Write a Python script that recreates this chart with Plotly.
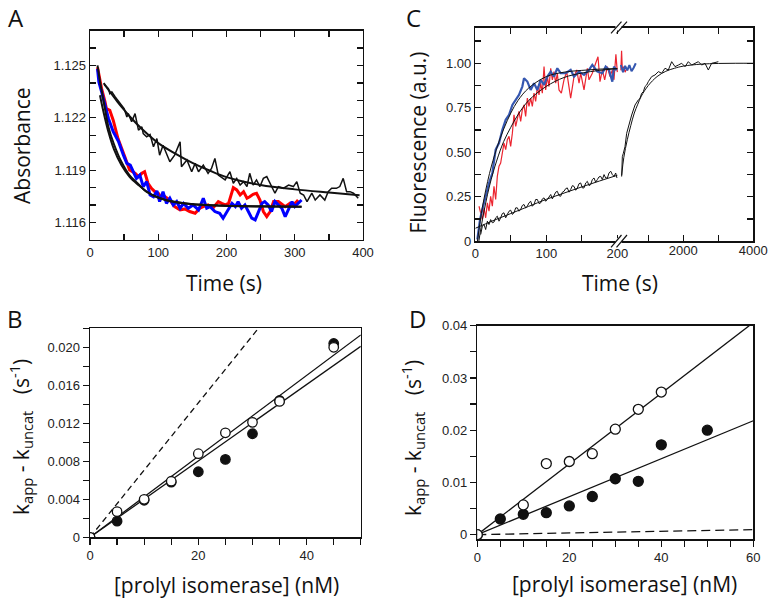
import plotly.graph_objects as go

W, H = 772, 600

# ---------------- Panel A data ----------------
a_black_t = [21,24,27,29,32,37,42,46,50,54,56,61,66,71,76,78,83,88,93,98,102,107,112,117,124,132,134,142,149,154,159,166,173,178,183,188,
             198,205,210,215,220,225,230,234,239,244,249,254,259,264,271,276,283,291,298,303,308,313,318,325,330,337,344,349,354,361,366,371,376,381,386,391,393]
a_black_y = [1.12390,1.12376,1.12367,1.12338,1.12348,1.12319,1.12291,1.12272,1.12253,1.12205,1.12224,1.12177,1.12224,1.12129,1.12148,1.12110,1.12091,1.12104,1.12034,1.12081,
             1.11986,1.12043,1.11996,1.11948,1.11986,1.12062,1.11920,1.11958,1.11891,1.11939,1.11891,1.11929,1.11882,1.11910,1.11967,1.11872,
             1.11844,1.11891,1.11825,1.11853,1.11815,1.11834,1.11806,1.11882,1.11815,1.11844,1.11806,1.11853,1.11863,1.11825,1.11768,1.11806,1.11796,1.11815,1.11806,1.11834,
             1.11768,1.11758,1.11720,1.11768,1.11729,1.11758,1.11729,1.11777,1.11796,1.11796,1.11806,1.11853,1.11777,1.11777,1.11768,1.11748,1.11739]
a_black_fit_t = [20,30,40,50,60,75,100,125,150,175,200,250,300,350,395]
a_black_fit_y = [1.12399,1.12345,1.12293,1.12245,1.12200,1.12140,1.12055,1.11995,1.11942,1.11898,1.11860,1.11815,1.11790,1.11772,1.11757]

a_red_t = [11,17,22,24,29,34,41,46,51,58,66,71,76,80,85,90,95,100,105,110,117,124,132,139,146,154,161,166,173,180,188,193,
           198,203,208,210,215,220,225,230,234,239,244,249,254,259,264,269,276,281,286,293,298,303,305]
a_red_y = [1.12490,1.12367,1.12291,1.12253,1.12243,1.12186,1.12081,1.12024,1.11977,1.11901,1.11882,1.11863,1.11882,1.11891,1.11825,1.11796,1.11777,1.11768,1.11739,1.11748,
           1.11729,1.11691,1.11672,1.11678,1.11663,1.11653,1.11682,1.11691,1.11701,1.11682,1.11720,1.11710,
           1.11701,1.11710,1.11777,1.11800,1.11787,1.11758,1.11777,1.11739,1.11748,1.11762,1.11768,1.11729,1.11663,1.11634,1.11663,1.11720,1.11720,1.11705,1.11691,1.11710,1.11701,1.11720,1.11729]

a_blue_t = [11,13,17,22,27,34,42,49,54,59,63,68,73,78,83,88,93,98,102,107,112,117,122,127,132,137,144,151,159,166,171,176,183,190,195,
            203,208,213,217,222,227,232,237,242,247,252,256,261,266,271,276,281,286,291,296,300,305,310]
a_blue_y = [1.12481,1.12405,1.12348,1.12272,1.12196,1.12120,1.12062,1.11986,1.11939,1.11929,1.11891,1.11853,1.11872,1.11806,1.11834,1.11758,1.11748,1.11781,1.11720,1.11777,
            1.11710,1.11739,1.11701,1.11720,1.11682,1.11710,1.11682,1.11701,1.11672,1.11739,1.11682,1.11691,1.11663,1.11653,1.11625,
            1.11682,1.11710,1.11691,1.11720,1.11682,1.11701,1.11663,1.11625,1.11615,1.11663,1.11710,1.11720,1.11701,1.11663,1.11720,1.11701,1.11682,1.11634,1.11682,1.11720,1.11691,1.11710,1.11729]

a_fit1_t = [11,15,20,27,35,46,58,71,83,95,110,120,144,170,193,250,310]
a_fit1_y = [1.12500,1.12400,1.12295,1.12148,1.12050,1.11948,1.11870,1.11820,1.11775,1.11752,1.11730,1.11722,1.11708,1.11700,1.11696,1.11692,1.11690]
a_fit2_t = [14.6,20,27,35,46,58,71,83,95,120,150,190,250,310]
a_fit2_y = [1.12329,1.12230,1.12119,1.12020,1.11929,1.11862,1.11815,1.11778,1.11750,1.11720,1.11705,1.11698,1.11693,1.11690]

# ---------------- Panel B data ----------------
b_conc = [0,5,10,15,20,25,30,35,45]
b_open = [0,0.0027,0.0040,0.0059,0.0088,0.0110,0.0121,0.0143,0.0200]
b_filled = [0,0.0017,0.0039,0.0058,0.0069,0.0082,0.0109,0.0144,0.0204]
b_fit1_x, b_fit1_y = [0,50],[0,0.0213]
b_fit2_x, b_fit2_y = [0,50],[0,0.0201]
b_dash_x, b_dash_y = [0,31.1],[0,0.022]

# ---------------- Panel C data ----------------
c_blue_t = [2.9,6.6,9.9,14.6,19.3,24.0,28.7,33.4,38.1,42.8,47.5,52.2,56.9,61.5,66.2,68.6,73.3,78.0,82.7,87.4,92.1,96.8,101.5,106.2,110.8,115.5,120.2,127.3,134.3,139.0,146.1,153.1,160.1,164.8,171.9,178.9,183.6,188.3,193.0,195.3,199]
c_blue_y = [0.009,0.121,0.178,0.252,0.327,0.383,0.514,0.551,0.626,0.682,0.710,0.766,0.794,0.822,0.869,0.916,0.897,0.850,0.888,0.850,0.907,0.879,0.925,0.953,0.925,0.972,0.944,0.944,0.963,0.925,0.953,0.935,0.963,0.991,0.953,0.944,0.981,0.963,0.897,0.981,0.96]
c_blue_tail_t = [205,208,211,214,217,220,223,226]
c_blue_tail_y = [0.99,0.95,0.985,0.96,0.99,0.955,0.975,1.0]

c_red_t = [5.2,7.6,9.9,12.3,14.6,17.0,19.3,21.6,24.0,26.3,28.7,31.0,33.4,35.7,38.1,40.4,42.8,45.1,47.5,49.8,52.2,54.5,56.9,59.2,61.5,63.9,66.2,68.6,70.9,73.3,75.6,78.0,80.3,82.7,85.0,87.4,89.7,92.1,94.4,96.8,99.1,101.5,103.8,106.2,108.5,110.8,113.2,115.5,117.9,121.2,124.9,128.7,132.0,134.3,139.0,142.8,146.1,148.4,153.1,157.8,160.1,164.8,169.5,172.8,175.6,178.9,182.2,185.9,189.7,193.0,195.3,198,200]
c_red_y = [0.196,0.159,0.121,0.187,0.131,0.215,0.168,0.252,0.196,0.308,0.234,0.364,0.421,0.439,0.495,0.551,0.514,0.570,0.589,0.533,0.607,0.710,0.645,0.682,0.729,0.673,0.738,0.766,0.701,0.804,0.757,0.804,0.757,0.832,0.785,0.869,0.822,0.888,0.832,0.981,0.850,0.925,0.869,0.972,0.907,0.953,0.888,0.944,0.850,0.832,0.907,0.953,0.850,0.804,0.925,0.963,0.888,0.944,0.850,0.972,0.907,0.944,1.000,1.037,0.897,0.963,0.907,0.981,0.925,0.963,0.907,1.05,0.95]
c_red_tail_t = [205,206,207,209,211,213,215]
c_red_tail_y = [0.96,1.07,0.97,0.98,0.95,0.97,0.96]

c_black_t = [7.6,9.9,12.3,14.6,17.0,19.3,21.6,24.0,26.3,28.7,31.0,33.4,35.7,38.1,40.4,42.8,45.1,47.5,49.8,52.2,54.5,56.9,59.2,61.5,63.9,66.2,68.6,70.9,73.3,75.6,78.0,80.3,82.7,85.0,87.4,89.7,92.1,94.4,96.8,99.1,101.5,103.8,106.2,108.5,110.8,113.2,115.5,117.9,120.2,122.6,124.9,127.3,129.6,132.0,134.3,136.7,139.0,141.4,143.7,146.1,148.4,150.8,153.1,155.5,157.8,160.2,162.5,164.8,167.2,169.5,171.9,174.2,176.6,178.9,181.3,183.6,186.0,188.3,190.7,193.0,195.4,197.7,199.5]
c_black_y = [0.037,0.084,0.093,0.065,0.112,0.093,0.121,0.103,0.107,0.131,0.140,0.112,0.131,0.155,0.159,0.131,0.150,0.168,0.174,0.150,0.159,0.187,0.187,0.168,0.178,0.200,0.206,0.187,0.196,0.215,0.224,0.196,0.206,0.234,0.234,0.211,0.215,0.237,0.243,0.224,0.234,0.252,0.262,0.237,0.252,0.275,0.280,0.256,0.252,0.275,0.280,0.295,0.299,0.275,0.290,0.312,0.308,0.286,0.299,0.323,0.327,0.299,0.299,0.327,0.336,0.312,0.318,0.346,0.355,0.331,0.346,0.361,0.364,0.346,0.374,0.355,0.355,0.383,0.393,0.374,0.364,0.383,0.355]
c_black_fit_t = [0,25,50,75,100,125,150,175,200]
c_black_fit_y = [0.072,0.115,0.155,0.195,0.235,0.270,0.305,0.338,0.370]
c_blue_fit_t = [3,10,20,30,40,50,60,75,100,125,150,175,200]
c_blue_fit_y = [0,0.19,0.38,0.52,0.63,0.72,0.79,0.86,0.925,0.95,0.96,0.967,0.97]
c_red_fit_t = [5,10,20,30,40,50,60,75,100,125,150,175,200]
c_red_fit_y = [0,0.12,0.31,0.45,0.56,0.64,0.71,0.79,0.87,0.92,0.945,0.96,0.97]

c_late_t = [239,245,258,287,334,382,429,477,525,620,668,715,763,810,858,906,953,1001,1096,1191,1287,1382,1477,1572,1668,1763,1858,1953,2049,2144,2239,2334,2430,2525,2620,2715,2810,2906,3001]
c_late_y = [0.363,0.42,0.475,0.494,0.531,0.606,0.644,0.681,0.709,0.765,0.784,0.794,0.803,0.831,0.84,0.869,0.878,0.897,0.925,0.934,0.953,0.944,0.972,0.962,1.009,0.981,0.99,1.0,0.981,1.009,0.99,1.0,1.009,0.99,1.0,0.962,1.0,1.004,1.009]
c_late_fit_t = [240,300,400,500,600,700,800,1000,1250,1500,1750,2000,2500,3000,3500,4000]
c_late_fit_y = [0.37,0.47,0.57,0.65,0.72,0.77,0.815,0.875,0.925,0.955,0.972,0.984,0.995,0.999,1.0,1.0]

# ---------------- Panel D data ----------------
d_open_x = [0,10,15,20,25,30,35,40]
d_open_y = [0,0.0057,0.0136,0.0140,0.0155,0.0202,0.0240,0.0273]
d_fill_x = [0,5,10,15,20,25,30,35,40,50]
d_fill_y = [0,0.0030,0.0039,0.0042,0.0055,0.0073,0.0107,0.0102,0.0172,0.0200]
d_fit1_x, d_fit1_y = [0,60],[0,0.0406]
d_fit2_x, d_fit2_y = [0,60],[0,0.0218]
d_dash_x, d_dash_y = [0,60],[0,0.00096]

# ---------------- tick definitions ----------------
a_xticks = [0,50,100,150,200,250,300,350,400]
a_xlabels = ["0","","100","","200","","300","","400"]
a_yticks = [1.115,1.116,1.117,1.118,1.119,1.120,1.121,1.122,1.123,1.124,1.125,1.126,1.127]
a_ylabels = ["","1.116","","","1.119","","","1.122","","","1.125","",""]
b_xticks = [0,5,10,15,20,25,30,35,40,45,50]
b_xlabels = ["0","","","","20","","","","40","",""]
b_yticks = [0,0.002,0.004,0.006,0.008,0.010,0.012,0.014,0.016,0.018,0.020,0.022]
b_ylabels = ["0","","0.004","","0.008","","0.012","","0.016","","0.020",""]
c_xticks_left = [0,50,100,150,200]
c_xlabels_left = ["0","","100","","200"]
c_xticks_right = [1000,2000,3000,4000]
c_xlabels_right = ["","2000","","4000"]
c_yticks = [0,0.125,0.25,0.375,0.5,0.625,0.75,0.875,1.0,1.125]
c_ylabels = ["0","","0.25","","0.50","","0.75","","1.00",""]
d_xticks = [0,5,10,15,20,25,30,35,40,45,50,55,60]
d_xlabels = ["0","","","","20","","","","40","","","","60"]
d_yticks = [0,0.005,0.01,0.015,0.02,0.025,0.03,0.035,0.04]
d_ylabels = ["0","","0.01","","0.02","","0.03","","0.04"]

def px(x): return x / W
def py(y): return 1 - y / H

fig = go.Figure()
BLK = "#111111"

def line(x, y, xa, ya, color=BLK, width=1.2, dash=None, shape="linear"):
    fig.add_trace(go.Scatter(x=x, y=y, xaxis=xa, yaxis=ya, mode="lines",
                             line=dict(color=color, width=width, dash=dash, shape=shape),
                             hoverinfo="skip"))

# Panel A
line(a_black_t, a_black_y, "x", "y", BLK, 1.5)
line(a_red_t, a_red_y, "x", "y", "#ff0000", 3)
line(a_blue_t, a_blue_y, "x", "y", "#0000ff", 3)
line(a_black_fit_t, a_black_fit_y, "x", "y", BLK, 2, shape="spline")
line(a_fit1_t, a_fit1_y, "x", "y", BLK, 2, shape="spline")
line(a_fit2_t, a_fit2_y, "x", "y", BLK, 2, shape="spline")

# Panel B
line(b_fit1_x, b_fit1_y, "x2", "y2", BLK, 1.3)
line(b_fit2_x, b_fit2_y, "x2", "y2", BLK, 1.3)
line(b_dash_x, b_dash_y, "x2", "y2", BLK, 1.3, dash="6px,4px")
fig.add_trace(go.Scatter(x=b_conc, y=b_filled, xaxis="x2", yaxis="y2", mode="markers",
                         marker=dict(size=9.5, color=BLK, line=dict(color=BLK, width=1.3)), hoverinfo="skip"))
fig.add_trace(go.Scatter(x=b_conc, y=b_open, xaxis="x2", yaxis="y2", mode="markers",
                         marker=dict(size=9.5, color="white", line=dict(color=BLK, width=1.3)), hoverinfo="skip"))

# Panel C
line(c_black_t, c_black_y, "x3", "y3", BLK, 1.0)
line(c_red_t, c_red_y, "x3", "y3", "#ec2530", 1.2)
line(c_red_tail_t, c_red_tail_y, "x3", "y3", "#ec2530", 1.2)
line(c_blue_t, c_blue_y, "x3", "y3", "#3557b0", 2.2)
line(c_blue_tail_t, c_blue_tail_y, "x3", "y3", "#3557b0", 2.0)
line(c_black_fit_t, c_black_fit_y, "x3", "y3", BLK, 1.0, shape="spline")
line(c_blue_fit_t, c_blue_fit_y, "x3", "y3", BLK, 1.0, shape="spline")
line(c_red_fit_t, c_red_fit_y, "x3", "y3", BLK, 1.0, shape="spline")
line(c_late_t, c_late_y, "x4", "y3", BLK, 1.0)
line(c_late_fit_t, c_late_fit_y, "x4", "y3", BLK, 1.0, shape="spline")

# Panel D
line(d_fit1_x, d_fit1_y, "x5", "y4", BLK, 1.3)
line(d_fit2_x, d_fit2_y, "x5", "y4", BLK, 1.3)
line(d_dash_x, d_dash_y, "x5", "y4", BLK, 1.3, dash="9px,5px")
fig.add_trace(go.Scatter(x=d_fill_x, y=d_fill_y, xaxis="x5", yaxis="y4", mode="markers",
                         marker=dict(size=10, color=BLK, line=dict(color=BLK, width=1.3)), hoverinfo="skip"))
fig.add_trace(go.Scatter(x=d_open_x, y=d_open_y, xaxis="x5", yaxis="y4", mode="markers",
                         marker=dict(size=10, color="white", line=dict(color=BLK, width=1.3)), hoverinfo="skip"))

TICKFONT = dict(family="Liberation Sans, Arial", size=13, color="#222")

def ax(domain, rng, tickvals, ticktext, inside=True, mirror="ticks", **kw):
    d = dict(domain=domain, range=rng, tickmode="array", tickvals=tickvals, ticktext=ticktext,
             showgrid=False, zeroline=False, showline=True, linecolor=BLK, linewidth=1.4,
             ticks="inside" if inside else "outside", ticklen=6, tickwidth=1.3, tickcolor=BLK,
             mirror=mirror, tickfont=TICKFONT, fixedrange=True, automargin=False)
    d.update(kw)
    return d

A_x = [px(90), px(363)]
A_y = [py(240), py(30.5)]
B_x = [px(90), px(360.8)]
B_y = [py(537.3), py(328.3)]
C_x = [px(475.3), px(753.3)]
C_y = [py(241.1), py(27.7)]
D_x = [px(477.3), px(753.3)]
D_y = [py(539.3), py(325.7)]

fig.update_layout(
    width=W, height=H, margin=dict(l=0, r=0, t=0, b=0, pad=0), autosize=False,
    paper_bgcolor="white", plot_bgcolor="rgba(0,0,0,0)", showlegend=False,
    xaxis=ax(A_x, [0, 400], a_xticks, a_xlabels, anchor="y"),
    yaxis=ax(A_y, [1.115, 1.127], a_yticks, a_ylabels, anchor="x"),
    xaxis2=ax(B_x, [0, 50], b_xticks, b_xlabels, inside=False, mirror=True, anchor="y2"),
    yaxis2=ax(B_y, [0, 0.022], b_yticks, b_ylabels, inside=False, mirror=True, anchor="x2"),
    xaxis3=ax(C_x, [0, 391.5], c_xticks_left, c_xlabels_left, anchor="y3"),
    xaxis4=ax(C_x, [-3943, 4000], c_xticks_right, c_xlabels_right, anchor="y3", overlaying="x3", showline=False),
    yaxis3=ax(C_y, [0, 1.2], c_yticks, c_ylabels, anchor="x3"),
    xaxis5=ax(D_x, [0, 60], d_xticks, d_xlabels, inside=False, mirror=True, anchor="y4"),
    yaxis4=ax(D_y, [-0.00089, 0.04], d_yticks, d_ylabels, inside=False, mirror=True, anchor="x5"),
)

# break marks on panel C axis
shapes = []
for (yb, yt) in [(247.3, 235.0), (33.3, 21.7)]:
    ymid = (yb + yt) / 2
    shapes.append(dict(type="rect", xref="paper", yref="paper", x0=px(615.5), x1=px(621.5),
                       y0=py(ymid + 3), y1=py(ymid - 3), fillcolor="white", line=dict(width=0), layer="above"))
    shapes.append(dict(type="line", xref="paper", yref="paper", x0=px(611), y0=py(yb), x1=px(621.5), y1=py(yt),
                       line=dict(color=BLK, width=1.2)))
    shapes.append(dict(type="line", xref="paper", yref="paper", x0=px(616.5), y0=py(yb), x1=px(627), y1=py(yt),
                       line=dict(color=BLK, width=1.2)))
fig.update_layout(shapes=shapes)

TITLE = dict(family="Open Sans, Noto Sans", size=21, color=BLK)
LETTER = dict(family="Open Sans, Noto Sans", size=24, color=BLK)
ylab_k = "k<sub>app</sub> - k<sub>uncat</sub>\u00a0\u00a0\u00a0(s<sup>-1</sup>)"
ann = [
    ("A", 16, 17.5, 0, LETTER), ("B", 15, 318.5, 0, LETTER), ("C", 413, 17.5, 0, LETTER), ("D", 417, 318.5, 0, LETTER),
    ("Time (s)", 224, 283, 0, TITLE), ("Absorbance", 22.5, 145.5, -90, TITLE),
    ("Time (s)", 620, 283, 0, TITLE), ("Fluorescence (a.u.)", 417, 142.5, -90, TITLE),
    ("[prolyl isomerase] (nM)", 226, 585, 0, TITLE), (ylab_k, 20, 437, -90, TITLE),
    ("[prolyl isomerase] (nM)", 624, 584, 0, TITLE), (ylab_k, 412, 438, -90, TITLE),
]
fig.update_layout(annotations=[dict(text=t, x=px(x), y=py(y), xref="paper", yref="paper", showarrow=False,
                                    xanchor="center", yanchor="middle", textangle=a, font=f)
                               for (t, x, y, a, f) in ann])

fig.write_html("out.html", config={"displayModeBar": False, "staticPlot": True})
